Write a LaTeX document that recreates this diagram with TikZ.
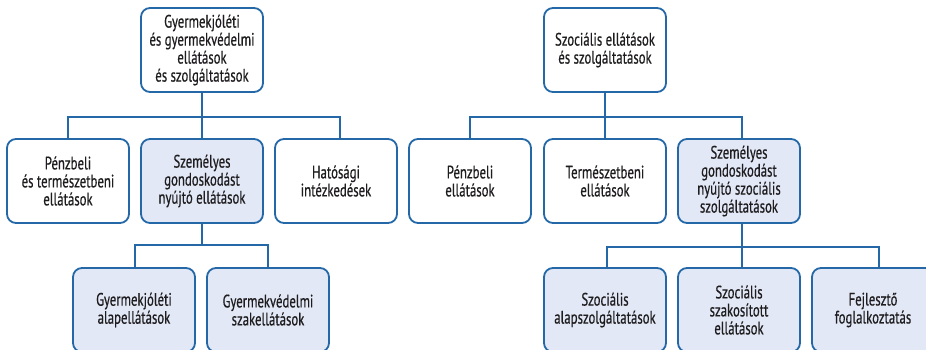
\documentclass[tikz,border=0pt]{standalone}
\usepackage{fontspec}
\setmainfont{PT Sans}[FakeStretch=0.71,FakeBold=0.5]
\definecolor{boxline}{RGB}{36,104,168}
\definecolor{boxfill}{RGB}{226,232,245}
\definecolor{txt}{RGB}{30,28,30}
\begin{document}
\begin{tikzpicture}[x=1pt,y=-1pt,
  box/.style={draw=boxline, line width=1.8pt, rounded corners=9pt, fill=white,
    minimum width=122pt, minimum height=84pt, align=center, text=txt,
    font=\fontsize{18}{18}\selectfont, inner sep=0pt},
  hl/.style={box, fill=boxfill},
  link/.style={draw=boxline, line width=1.4pt}]
\clip (0,0) rectangle (926,350);
\fill[white] (0,0) rectangle (926,350);
% left tree
\node[box] (gy) at (202,50) {Gyermekjóléti\\és gyermekvédelmi\\ellátások\\ és szolgáltatások};
\node[box] (pt) at (68,181) {Pénzbeli\\és természetbeni\\ellátások};
\node[hl] (szg) at (202,181) {Személyes\\gondoskodást\\nyújtó ellátások};
\node[box] (hat) at (336,181) {Hatósági\\intézkedések};
\node[hl] (gya) at (134,310) {Gyermekjóléti\\alapellátások};
\node[hl] (gyv) at (268,310) {Gyermekvédelmi\\szakellátások};
% right tree
\node[box] (sz) at (605,50) {Szociális ellátások\\és szolgáltatások};
\node[box] (pe) at (470,181) {Pénzbeli\\ellátások};
\node[box] (te) at (605,181) {Természetbeni\\ellátások};
\node[hl] (szs) at (739,181) {Személyes\\gondoskodást\\nyújtó szociális\\szolgáltatások};
\node[hl] (sa) at (605,310) {Szociális\\alapszolgáltatások};
\node[hl] (ssz) at (739,310) {Szociális\\szakosított\\ellátások};
\node[hl] (ff) at (873,310) {Fejlesztő\\foglalkoztatás};
% connectors left
\draw[link] (gy.south) -- ++(0,24) coordinate (b1);
\draw[link] (pt.north) |- (b1) -| ([xshift=4pt]hat.north);
\draw[link] (b1) -- (szg.north);
\draw[link] (szg.south) -- ++(0,21) coordinate (b2);
\draw[link] ([xshift=1pt]gya.north) |- (b2) -| (gyv.north);
% connectors right
\draw[link] (sz.south) -- ++(0,24) coordinate (b3);
\draw[link] (pe.north) |- (b3) -| ([xshift=3pt]szs.north);
\draw[link] (b3) -- (te.north);
\draw[link] ([xshift=3pt]szs.south) -- ++(0,23) coordinate (b4);
\draw[link] ([xshift=2pt]sa.north) |- (b4) -| ([xshift=6pt]ff.north);
\draw[link] (b4) -- ([xshift=3pt]ssz.north);
\end{tikzpicture}
\end{document}
